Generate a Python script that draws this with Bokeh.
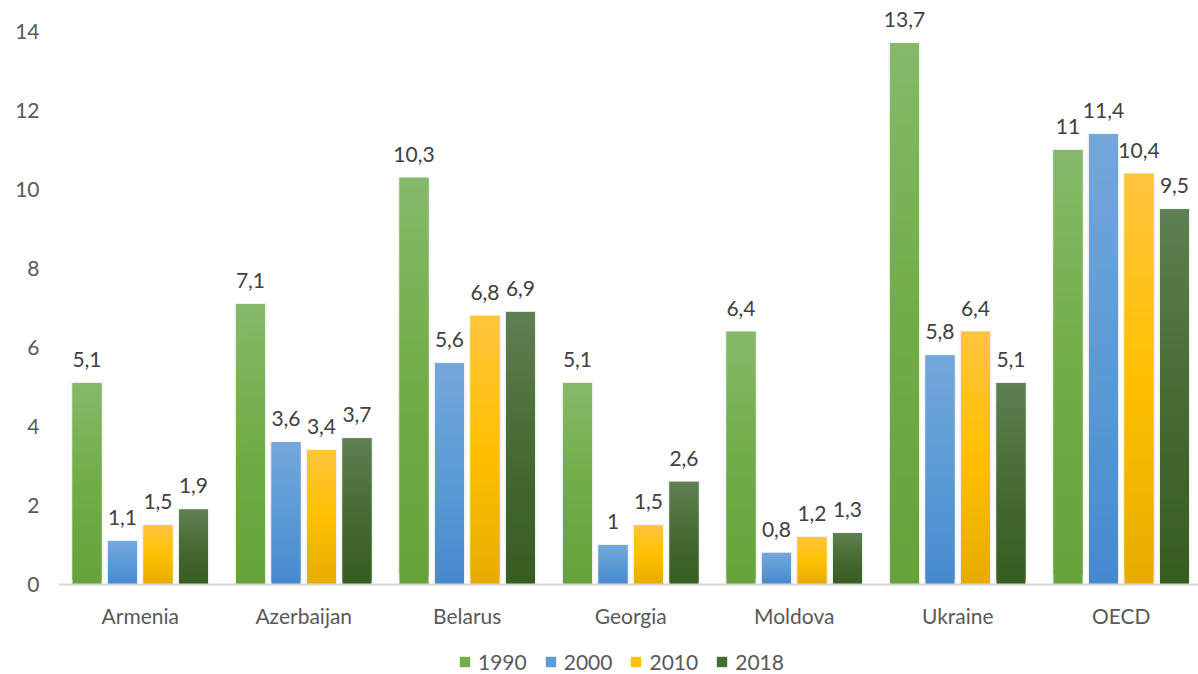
import numpy as np
from bokeh.plotting import figure
from bokeh.models import (ColumnDataSource, Range1d, FixedTicker, LabelSet,
                          Legend, LegendItem, Span)
from bokeh.core.properties import value
from bokeh.embed import file_html
from bokeh.resources import INLINE

countries = ["Armenia", "Azerbaijan", "Belarus", "Georgia", "Moldova", "Ukraine", "OECD"]
years = ["1990", "2000", "2010", "2018"]
v1990 = [5.1, 7.1, 10.3, 5.1, 6.4, 13.7, 11.0]
v2000 = [1.1, 3.6, 5.6, 1.0, 0.8, 5.8, 11.4]
v2010 = [1.5, 3.4, 6.8, 1.5, 1.2, 6.4, 10.4]
v2018 = [1.9, 3.7, 6.9, 2.6, 1.3, 5.1, 9.5]
y_ticks = [0, 2, 4, 6, 8, 10, 12, 14]

series = [v1990, v2000, v2010, v2018]
# gradient stops: (top, middle, bottom)
grads = [
    ("#86b96a", "#70ad47", "#65a23a"),
    ("#74a7dc", "#5b9bd5", "#4689cf"),
    ("#ffc43e", "#ffc000", "#e6ab00"),
    ("#5f8052", "#466b33", "#375d21"),
]

PX = 163.5  # pixels per category unit
PY = 39.5   # pixels per y unit
offsets = [-53.25 / PX, -17.75 / PX, 17.75 / PX, 53.25 / PX]
bw = 29.0 / PX

FONT = "Lato"
FS = "21px"
FRAME_W, FRAME_H = 1140, 674
ZERO_PX = 584  # pixel row of y = 0

p = figure(frame_width=FRAME_W, frame_height=FRAME_H, output_backend="svg",
           toolbar_location=None, x_axis_location=None,
           x_range=Range1d(-0.5, -0.5 + FRAME_W / PX),
           y_range=Range1d(-(FRAME_H - ZERO_PX) / PY, ZERO_PX / PY),
           min_border_left=58, min_border_right=0,
           min_border_top=0, min_border_bottom=0)
p.outline_line_color = None
p.grid.visible = False
p.background_fill_color = "white"
p.border_fill_color = "white"


def hex2rgb(h):
    h = h.lstrip("#")
    return np.array([int(h[i:i + 2], 16) for i in (0, 2, 4)], dtype=float)


def rgb2hex(c):
    return "#%02x%02x%02x" % tuple(int(round(x)) for x in c)


def grad_color(stops, t):
    top, mid, bot = (hex2rgb(s) for s in stops)
    if t < 0.5:
        c = bot + (mid - bot) * (t / 0.5)
    else:
        c = mid + (top - mid) * ((t - 0.5) / 0.5)
    return rgb2hex(c)


N = 40
legend_items = []
for s, vals in enumerate(series):
    xs = np.arange(len(countries)) + offsets[s]
    # soft shadow
    sh = ColumnDataSource(dict(left=xs - bw / 2 - 1.5 / PX, right=xs + bw / 2 + 1.5 / PX,
                               top=np.array(vals) + 1.0 / PY,
                               bottom=np.zeros(len(vals))))
    p.quad(left="left", right="right", top="top", bottom="bottom", source=sh,
           fill_color="black", fill_alpha=0.06, line_color=None)
    L, R, B, T, C = [], [], [], [], []
    for x, v in zip(xs, vals):
        step = v / N
        for k in range(N):
            b = step * k
            t = min(v, step * (k + 2))
            L.append(x - bw / 2)
            R.append(x + bw / 2)
            B.append(b)
            T.append(t)
            C.append(grad_color(grads[s], (k + 0.5) / N))
    src = ColumnDataSource(dict(left=L, right=R, bottom=B, top=T, color=C))
    r = p.quad(left="left", right="right", bottom="bottom", top="top", source=src,
               fill_color="color", line_color=None)
    legend_items.append(LegendItem(label=years[s], renderers=[r], index=N // 2))

    lab = ColumnDataSource(dict(x=xs, y=vals,
                                t=[("%g" % v).replace(".", ",") for v in vals]))
    p.add_layout(LabelSet(x="x", y="y", text="t", source=lab, text_align="center",
                          text_baseline="alphabetic", y_offset=16,
                          text_font=value(FONT), text_font_size=value(FS),
                          text_color="#404040"))

# category axis: base line and labels
p.add_layout(Span(location=0, dimension="width", line_color="#d9d9d9", line_width=2))
cat_src = ColumnDataSource(dict(x=list(range(len(countries))), y=[0] * len(countries),
                                t=countries))
p.add_layout(LabelSet(x="x", y="y", text="t", source=cat_src, text_align="center",
                      text_baseline="middle", y_offset=-31,
                      text_font=value(FONT), text_font_size=value(FS),
                      text_color="#595959"))

# value axis
p.yaxis.ticker = FixedTicker(ticks=y_ticks)
p.yaxis.axis_line_color = None
p.yaxis.major_tick_line_color = None
p.yaxis.minor_tick_line_color = None
p.yaxis.major_tick_out = 0
p.yaxis.major_label_standoff = 19
p.yaxis.major_label_text_font = FONT
p.yaxis.major_label_text_font_size = FS
p.yaxis.major_label_text_color = "#595959"

legend = Legend(items=legend_items, orientation="horizontal", location=(400, 0),
                label_text_font=FONT, label_text_font_size=FS,
                label_text_color="#595959", glyph_width=13, glyph_height=13,
                label_standoff=7, spacing=17, padding=0, margin=0,
                border_line_color=None, background_fill_alpha=0)
p.add_layout(legend)

open("out.html", "w").write(file_html(p, INLINE))
